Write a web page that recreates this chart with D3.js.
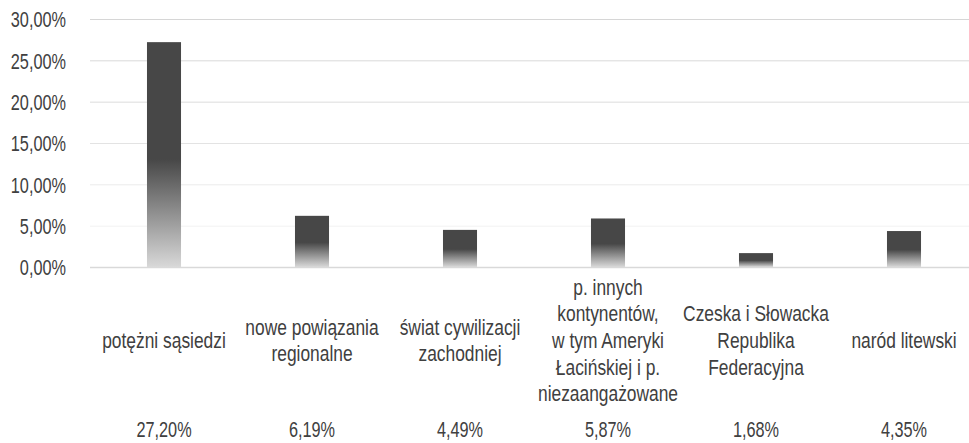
<!DOCTYPE html>
<html>
<head>
<meta charset="utf-8">
<script src="https://cdn.jsdelivr.net/npm/d3@7"></script>
<style>
  html, body { margin: 0; padding: 0; background: #fff; }
  svg { display: block; }
  text { font-family: "Liberation Sans", Arial, sans-serif; fill: #404040; }
</style>
</head>
<body>
<svg id="chart" width="969" height="443"></svg>
<script>
// ---- data ----
const categories = [
  ["potężni sąsiedzi"],
  ["nowe powiązania", "regionalne"],
  ["świat cywilizacji", "zachodniej"],
  ["p. innych", "kontynentów,", "w tym Ameryki", "Łacińskiej i p.", "niezaangażowane"],
  ["Czeska i Słowacka", "Republika", "Federacyjna"],
  ["naród litewski"]
];
const values = [27.20, 6.19, 4.49, 5.87, 1.68, 4.35];
const valueLabels = ["27,20%", "6,19%", "4,49%", "5,87%", "1,68%", "4,35%"];
const yTicks = [0, 5, 10, 15, 20, 25, 30];

// ---- layout ----
const plotLeft = 90, plotRight = 978, gridRight = 969;
const yTop = 19, yBottom = 267;
const FS = 22;          // font size
const SX_TXT = 0.79;    // horizontal condensing for words
const SX_NUM = 0.74;    // horizontal condensing for numbers
const svg = d3.select("#chart");

const x = d3.scaleBand().domain(d3.range(categories.length)).range([plotLeft, plotRight]).padding(0);
const y = d3.scaleLinear().domain([0, 30]).range([yBottom, yTop]);
const barW = x.bandwidth() * 0.23;
const cx = i => x(i) + x.bandwidth() / 2;

// gradient
const defs = svg.append("defs");
const grad = defs.append("linearGradient").attr("id", "barGrad")
  .attr("x1", 0).attr("y1", 0).attr("x2", 0).attr("y2", 1);
grad.append("stop").attr("offset", 0).attr("stop-color", "#474747");
grad.append("stop").attr("offset", 0.52).attr("stop-color", "#474747");
grad.append("stop").attr("offset", 1).attr("stop-color", "#d8d8d8");

// gridlines
const gridColor = d3.scaleLinear().domain([5, 20, 30]).range(["#f2f2f2", "#dcdcdc", "#d6d6d6"]);
svg.append("g").selectAll("line").data(yTicks.filter(d => d > 0)).join("line")
  .attr("x1", plotLeft).attr("x2", gridRight)
  .attr("y1", d => y(d) + 0.5).attr("y2", d => y(d) + 0.5)
  .attr("stroke", d => gridColor(d)).attr("stroke-width", 1);

// y axis labels
const yAxis = d3.axisLeft(y).tickValues(yTicks)
  .tickFormat(d => d3.format(".2f")(d).replace(".", ",") + "%")
  .tickSize(0).tickPadding(0);
const yg = svg.append("g").attr("transform", `translate(66,0)`).call(yAxis);
yg.select(".domain").remove();
yg.selectAll("text")
  .attr("x", 0)
  .attr("dy", "0.36em")
  .attr("font-size", FS)
  .attr("font-family", "Liberation Sans, Arial, sans-serif")
  .attr("transform", `scale(${SX_NUM},1)`)
  .style("fill", "#404040");

// bars
svg.append("g").selectAll("rect").data(values).join("rect")
  .attr("x", (d, i) => cx(i) - barW / 2)
  .attr("width", barW)
  .attr("y", d => y(d))
  .attr("height", d => y(0) - y(d))
  .attr("fill", "url(#barGrad)");

// baseline
svg.append("line").attr("x1", plotLeft).attr("x2", gridRight)
  .attr("y1", y(0) + 0.5).attr("y2", y(0) + 0.5)
  .attr("stroke", "#d9d9d9").attr("stroke-width", 1.5);

// category labels (baselines centred around labelMid)
const lineH = 26.6, labelMid = 348;
const cat = svg.append("g").selectAll("text").data(categories).join("text")
  .attr("text-anchor", "middle")
  .attr("font-size", FS)
  .attr("transform", (d, i) => `translate(${cx(i)},${labelMid - (d.length - 1) * lineH / 2}) scale(${SX_TXT},1)`);
cat.selectAll("tspan").data(d => d).join("tspan")
  .attr("x", 0)
  .attr("dy", (d, i) => i === 0 ? 0 : lineH)
  .text(d => d);

// value row
svg.append("g").selectAll("text").data(valueLabels).join("text")
  .attr("text-anchor", "middle")
  .attr("font-size", FS)
  .attr("transform", (d, i) => `translate(${cx(i)},437) scale(${SX_NUM},1)`)
  .text(d => d);
</script>
</body>
</html>
